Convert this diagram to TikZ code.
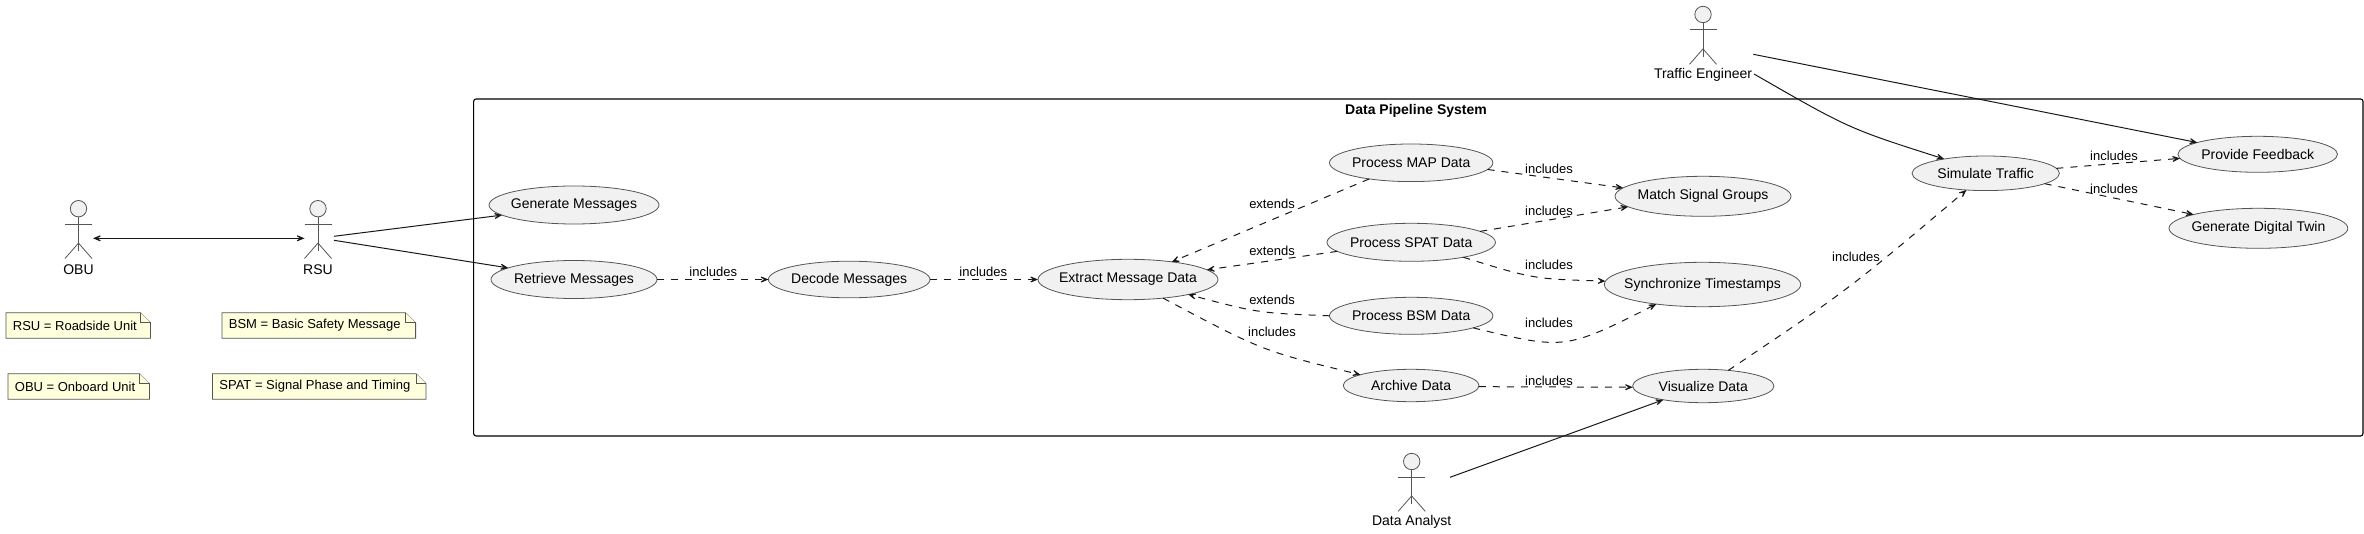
\documentclass[tikz,border=0pt]{standalone}
\usepackage{fontspec}
\setmainfont{Liberation Sans}
\usetikzlibrary{shapes.geometric,arrows.meta}
\definecolor{ink}{HTML}{181818}
\definecolor{ucfill}{HTML}{F1F1F1}
\definecolor{notefill}{HTML}{FEFFDD}
\definecolor{outline}{HTML}{555555}
\tikzset{
  x=0.5pt,y=-0.5pt,
  usecase/.style={shape=ellipse,draw=outline,fill=ucfill,line width=0.4pt,inner sep=0pt,outer sep=0pt,font=\fontsize{7}{8.4}\selectfont},
  sysframe/.style={draw=black,line width=0.55pt,rounded corners=1.25pt,inner sep=0pt,outer sep=0pt},
  systitle/.style={font=\fontsize{7}{8.4}\selectfont\bfseries,inner sep=0pt},
  head/.style={shape=circle,draw=outline,fill=ucfill,line width=0.4pt,minimum size=8.2pt,inner sep=0pt},
  limb/.style={draw=outline,line width=0.4pt},
  actorlabel/.style={font=\fontsize{7}{8.4}\selectfont,inner sep=0pt},
  edgelabel/.style={font=\fontsize{6.5}{7.8}\selectfont,inner sep=0pt},
  notetext/.style={font=\fontsize{6.5}{7.8}\selectfont,inner sep=0pt,anchor=west},
  notebody/.style={draw=outline,fill=notefill,line width=0.4pt},
  assoc/.style={draw=ink,line width=0.5pt,-{Stealth[length=6pt,width=5pt,inset=3.8pt]}},
  dep/.style={assoc,dash pattern=on 3.5pt off 3.5pt},
}
\newcommand{\cl}[1]{\makebox[0pt]{#1}}
% name, x, head y, label
\newcommand{\stick}[4]{%
  \node[head] (#1) at (#2,#3) {};
  \draw[limb] (#1.south) -- ++(0,34);
  \draw[limb] ([yshift=-7.7pt]#1.center) ++(-13.5,0) -- ++(27,0);
  \draw[limb] ([yshift=-17.2pt]#1.center) ++(-13.5,15.4) -- ++(13.5,-15.4) -- ++(13.5,15.4);
  \node[actorlabel] (#1-label) at ([yshift=-30.3pt]#1.center) {#4};
}
% name, x0, y0, x1, y1, text
\newcommand{\memo}[6]{%
  \draw[notebody] (#2,#3) -- (#4-10,#3) -- (#4,#3+10) -- (#4,#5) -- (#2,#5) -- cycle;
  \draw[notebody] (#4-10,#3) -- (#4-10,#3+10) -- (#4,#3+10);
  \node[notetext] (#1) at (#2+6.5,#3/2+#5/2) {#6};
}
\begin{document}
\begin{tikzpicture}
\useasboundingbox (0,0) rectangle (2364,534);

\node[sysframe,minimum width=944.7pt,minimum height=168.5pt] (sys) at (1418.3,267.5) {};
\node[systitle] (systitle) at (1416,111) {Data Pipeline System};

\stick{obu}{78.5}{208.7}{OBU}
\stick{rsu}{318}{208.7}{RSU}
\stick{eng}{1703}{14.5}{Traffic Engineer}
\stick{ana}{1411.7}{461.5}{Data Analyst}

\coordinate (obu-r) at (93,238.3);
\coordinate (rsu-l) at (304.5,238.3);
\coordinate (rsu-a) at (334,236.3);
\coordinate (rsu-b) at (334,240.3);
\coordinate (eng-a) at (1753.3,54.3);
\coordinate (eng-b) at (1754,74);
\coordinate (ana-a) at (1450,477.3);

\memo{nrsu}{6}{312.7}{150.5}{338.3}{RSU = Roadside Unit}
\memo{nbsm}{222}{312.7}{415.6}{338.3}{BSM = Basic Safety Message}
\memo{nobu}{8}{373.7}{149.5}{399.3}{OBU = Onboard Unit}
\memo{nspat}{212.5}{373.7}{426}{399.3}{SPAT = Signal Phase and Timing}

\node[usecase,minimum width=85pt,minimum height=19pt] (gen) at (574,205) {\cl{Generate Messages}};
\node[usecase,minimum width=83pt,minimum height=19pt] (ret) at (574,279.5) {\cl{Retrieve Messages}};
\node[usecase,minimum width=80.8pt,minimum height=18.3pt] (dec) at (849.2,279.5) {\cl{Decode Messages}};
\node[usecase,minimum width=90pt,minimum height=20.2pt] (ext) at (1128,279.5) {\cl{Extract Message Data}};
\node[usecase,minimum width=81.7pt,minimum height=18.8pt] (map) at (1411.2,162.8) {\cl{Process MAP Data}};
\node[usecase,minimum width=84.2pt,minimum height=19pt] (spat) at (1411.2,242.3) {\cl{Process SPAT Data}};
\node[usecase,minimum width=81.7pt,minimum height=18.5pt] (bsm) at (1411.2,315.8) {\cl{Process BSM Data}};
\node[usecase,minimum width=67.9pt,minimum height=16.2pt] (arc) at (1411.1,385.5) {\cl{Archive Data}};
\node[usecase,minimum width=88pt,minimum height=20pt] (mat) at (1703,196.3) {\cl{Match Signal Groups}};
\node[usecase,minimum width=98.2pt,minimum height=22.2pt] (syn) at (1702.5,284.5) {\cl{Synchronize Timestamps}};
\node[usecase,minimum width=70.7pt,minimum height=16.7pt] (vis) at (1703.3,386) {\cl{Visualize Data}};
\node[usecase,minimum width=73.7pt,minimum height=17.3pt] (sim) at (1985.7,173.3) {\cl{Simulate Traffic}};
\node[usecase,minimum width=79.8pt,minimum height=18pt] (fb) at (2257.7,154.3) {\cl{Provide Feedback}};
\node[usecase,minimum width=89.4pt,minimum height=20pt] (twin) at (2258.4,228.3) {\cl{Generate Digital Twin}};

\draw[assoc,{Stealth[length=6pt,width=5pt,inset=3.8pt]}-{Stealth[length=6pt,width=5pt,inset=3.8pt]}] (obu-r) -- (rsu-l);
\draw[assoc] (rsu-a) -- (gen.188);
\draw[assoc] (rsu-b) -- (ret.170.9);
\draw[assoc] (eng-a) -- (fb.169.5);
\draw[assoc] (eng-b) .. controls (1849,128.7) .. (sim.161.3);
\draw[assoc] (ana-a) -- (vis.199.6);

\draw[dep] (ret.0) -- (dec.180);
\draw[dep] (dec.0) -- (ext.180);
\draw[dep] (map.201.6) -- (ext.22.1);
\draw[dep] (spat.187.2) -- (ext.7.6);
\draw[dep] (bsm.180) .. controls (1258,313) .. (ext.-14.8);
\draw[dep] (ext.-28.2) .. controls (1262.7,351) .. (arc.168.9);
\draw[dep] (arc.-1.5) -- (vis.181);
\draw[dep] (map.-5.6) -- (mat.174.1);
\draw[dep] (spat.9.3) -- (mat.188.2);
\draw[dep] (spat.-16.4) .. controls (1533.5,279) .. (syn.178.4);
\draw[dep] (bsm.-11.8) .. controls (1565,350) .. (syn.203.9);
\draw[dep] (vis.32) .. controls (1848,290) .. (sim.221.9);
\draw[dep] (sim.4) -- (fb.183.7);
\draw[dep] (sim.-10.5) -- (twin.168.7);

\node[edgelabel] (l1) at (713.3,271.7) {includes};
\node[edgelabel] (l2) at (983.3,271.7) {includes};
\node[edgelabel] (l3) at (1272,204) {extends};
\node[edgelabel] (l4) at (1272,250.7) {extends};
\node[edgelabel] (l5) at (1272,300) {extends};
\node[edgelabel] (l6) at (1272,331.7) {includes};
\node[edgelabel] (l7) at (1549,168.7) {includes};
\node[edgelabel] (l8) at (1549,210.7) {includes};
\node[edgelabel] (l9) at (1549,264.7) {includes};
\node[edgelabel] (l10) at (1549,322.7) {includes};
\node[edgelabel] (l11) at (1549,380.7) {includes};
\node[edgelabel] (l12) at (1856,256.7) {includes};
\node[edgelabel] (l13) at (2114,155.7) {includes};
\node[edgelabel] (l14) at (2114,188.7) {includes};
\end{tikzpicture}
\end{document}
